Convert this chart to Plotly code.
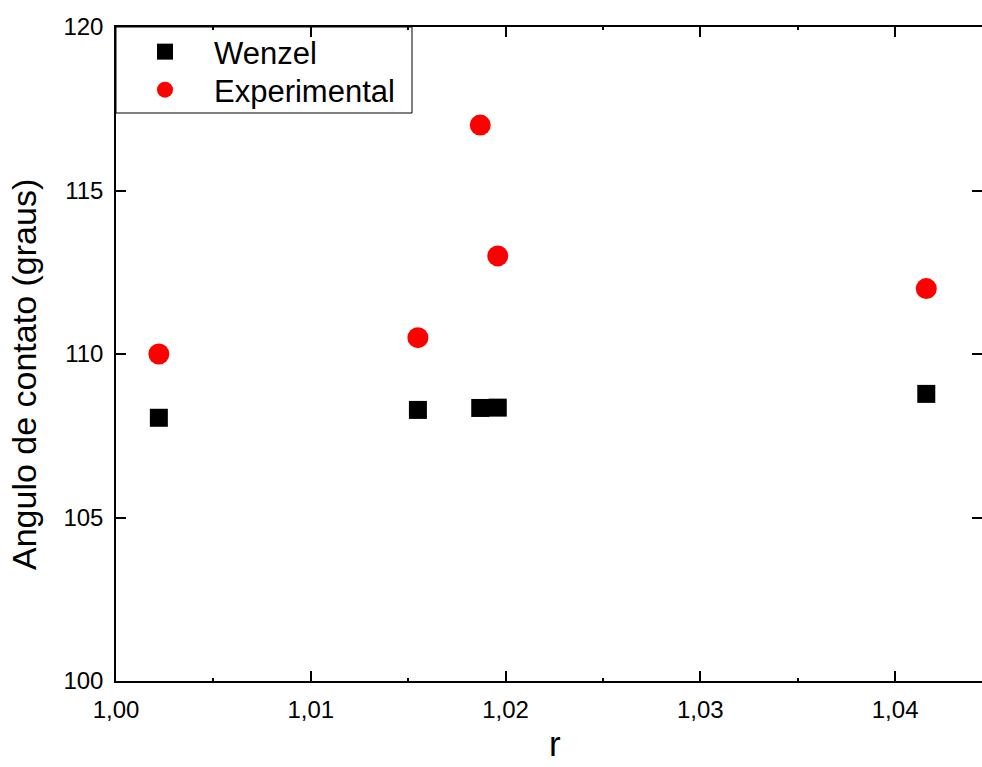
import plotly.graph_objects as go

r_vals = [1.0022, 1.0155, 1.0187, 1.0196, 1.0416]
wenzel = [108.05, 108.29, 108.35, 108.36, 108.78]
experimental = [110.0, 110.5, 117.0, 113.0, 112.0]

x_ticks = [1.00, 1.01, 1.02, 1.03, 1.04]
y_ticks = [100, 105, 110, 115, 120]

FONT = "Liberation Sans, Arial, sans-serif"

fig = go.Figure()
fig.add_trace(go.Scatter(
    x=r_vals, y=wenzel, mode="markers", name="Wenzel", legend="legend",
    marker=dict(symbol="square", size=18, color="black"),
))
fig.add_trace(go.Scatter(
    x=r_vals, y=experimental, mode="markers", name="Experimental", legend="legend2",
    marker=dict(symbol="circle", size=21, color="red"),
))

axis_common = dict(
    showline=True, linecolor="black", linewidth=1.5, mirror="ticks",
    ticks="inside", ticklen=10, tickwidth=1.5, tickcolor="black",
    showgrid=False, zeroline=False,
    tickfont=dict(family=FONT, size=24, color="black"),
)

fig.update_xaxes(
    range=[1.0, 1.04446], tickvals=x_ticks, tickformat=".2f",
    minor=dict(ticks="inside", ticklen=3, tickcolor="black", dtick=0.005, tick0=1.0),
    ticklabelstandoff=6, automargin=False,
    **axis_common,
)
fig.update_yaxes(
    range=[100, 120], tickvals=y_ticks, tickformat="d",
    ticklabelstandoff=6, automargin=False,
    **axis_common,
)

leg_common = dict(
    xanchor="left", yanchor="middle", x=0,
    borderwidth=0, bgcolor="rgba(0,0,0,0)",
    font=dict(family=FONT, size=31, color="black"),
    itemwidth=88,
)

title_font = dict(family=FONT, size=34, color="black")

fig.update_layout(
    width=982, height=767,
    margin=dict(l=116, r=0, t=27, b=86),
    plot_bgcolor="white", paper_bgcolor="white",
    separators=",.",
    font=dict(family=FONT, color="black"),
    showlegend=True,
    legend=dict(y=0.9618, **leg_common),
    legend2=dict(y=0.9037, **leg_common),
    shapes=[dict(
        type="rect", xref="paper", yref="paper",
        x0=0, x1=0.3418, y0=0.8685, y1=1,
        line=dict(color="black", width=1), fillcolor="white", layer="below",
    )],
    annotations=[
        dict(
            text="Angulo de contato (graus)", textangle=-90,
            xref="paper", yref="paper", x=-0.1062, y=0.4679,
            xanchor="center", yanchor="middle", showarrow=False,
            font=title_font,
        ),
        dict(
            text="r",
            xref="paper", yref="paper", x=0.507, y=-0.0950,
            xanchor="center", yanchor="middle", showarrow=False,
            font=dict(family=FONT, size=35, color="black"),
        ),
    ],
)

fig.write_html("out.html")
